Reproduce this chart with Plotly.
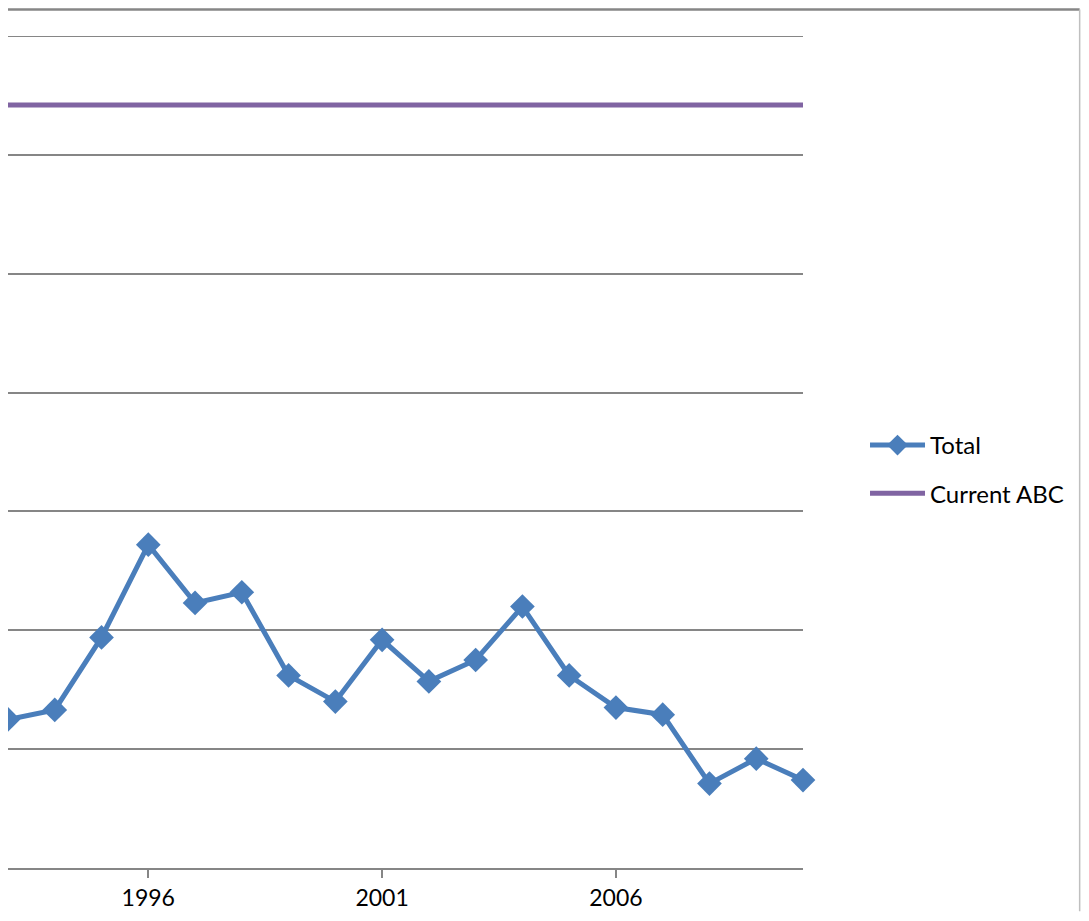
import plotly.graph_objects as go

# Colours
TOTAL_BLUE = '#4A7EBB'
ABC_PURPLE = '#8064A2'
GRID_GREY = '#868686'

years = list(range(1993, 2011))
total = [1.25, 1.33, 1.94, 2.72, 2.23, 2.32, 1.62, 1.40, 1.92,
         1.57, 1.75, 2.20, 1.62, 1.35, 1.29, 0.71, 0.92, 0.74]
current_abc = [6.42] * len(years)

fig = go.Figure()

fig.add_trace(go.Scatter(
    x=years,
    y=total,
    mode='lines+markers',
    name='Total',
    legendgroup='a',
    line=dict(color=TOTAL_BLUE, width=5),
    marker=dict(symbol='diamond', size=19, color=TOTAL_BLUE),
    cliponaxis=False,
))

fig.add_trace(go.Scatter(
    x=years,
    y=current_abc,
    mode='lines',
    name='Current ABC',
    legendgroup='b',
    line=dict(color=ABC_PURPLE, width=5),
    cliponaxis=False,
))

# page body adds 8px on each side, so the figure is smaller than the window
fig.update_layout(
    width=1073,
    height=905,
    margin=dict(l=0, r=278, t=28, b=45),
    paper_bgcolor='white',
    plot_bgcolor='white',
    font=dict(family='Lato, Open Sans, sans-serif', size=23, color='black'),
    showlegend=True,
    legend=dict(
        x=1.078, y=0.479, xanchor='left', yanchor='middle',
        traceorder='grouped', tracegroupgap=14,
        itemwidth=55,
        font=dict(size=24),
    ),
    shapes=[
        # top gridline (value 7) sits on the plot edge
        dict(type='line', xref='paper', yref='y', x0=0, x1=1,
             y0=7, y1=7, line=dict(color=GRID_GREY, width=2), layer='below'),
        # chart-area border, top and right
        dict(type='line', xref='paper', yref='paper', x0=0, x1=1.348,
             y0=1.032, y1=1.032, line=dict(color=GRID_GREY, width=2.5)),
        dict(type='line', xref='paper', yref='paper', x0=1.348, x1=1.348,
             y0=1.032, y1=-0.052, line=dict(color='#BFBFBF', width=1.5)),
    ],
)

fig.update_xaxes(
    range=[1993, 2010],
    tick0=1996, dtick=5,
    ticks='outside', ticklen=8, tickwidth=1.5, tickcolor=GRID_GREY,
    showgrid=False,
    showline=True, linecolor=GRID_GREY, linewidth=2,
    tickfont=dict(size=23),
    zeroline=False,
)

fig.update_yaxes(
    range=[0, 7],
    dtick=1,
    showticklabels=False,
    showgrid=True, gridcolor=GRID_GREY, gridwidth=2,
    zeroline=False,
    showline=False,
)

fig.write_html('out.html')
